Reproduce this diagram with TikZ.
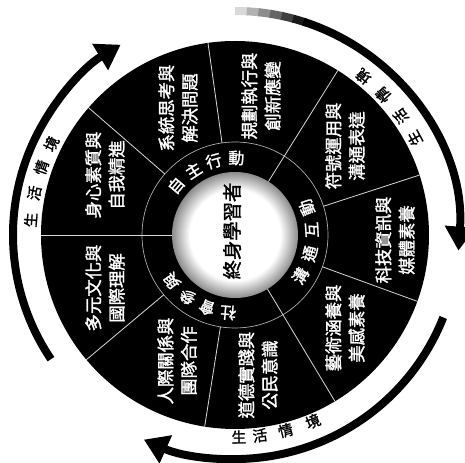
\documentclass[tikz,border=0pt]{standalone}
\usepackage{fontspec}
\newfontfamily\cjk[AutoFakeBold=1.6]{Noto Sans CJK TC}
\usetikzlibrary{arrows.meta}

\pgfdeclareradialshading{centrefade}{\pgfpoint{0bp}{0bp}}{color(0bp)=(white); color(18bp)=(white); color(25bp)=(black!45); color(50bp)=(black!45)}

\tikzset{
  divider/.style={draw=white!85!black, line width=0.6pt},
  ringedge/.style={draw=white!70!black, line width=0.5pt},
  coretext/.style={font=\cjk\bfseries\fontsize{14.5}{14.5}\selectfont, rotate=90, inner sep=0pt},
  itemtext/.style={text=white, font=\cjk\bfseries\fontsize{13}{17.5}\selectfont, align=center, rotate=90, inner sep=0pt},
  ringtext/.style={text=white, font=\cjk\bfseries\fontsize{12}{12}\selectfont, inner sep=0pt},
  arctext/.style={font=\cjk\bfseries\fontsize{11}{11}\selectfont, inner sep=0pt},
  lifearrow/.style={line width=6pt, -{Triangle[length=18pt,width=22pt]}},
}

\begin{document}
\begin{tikzpicture}[x=0.75pt,y=0.75pt]
%frame of the picture
\fill[white] (-235,-228) rectangle (230,235);
\useasboundingbox (-235,-228) rectangle (230,235);

%Shape: Disc
\fill[black] (0,0) circle (194);
%Inner ring edge
\draw[ringedge] (0,0) circle (93);
%Dividers between the three groups
\foreach \a in {58,-59,180} \draw[divider] (\a:63) -- (\a:194);
%Dividers between the nine items
\foreach \a in {139,98,18,-20,-99,-140} \draw[divider] (\a:93) -- (\a:194);
%Shape: Centre
\shade[shading=centrefade] (0,0) circle (63);

% Text Node
\node[coretext] (core) at (-3,4) {終身學習者};

%Ring: three groups
\foreach \ch/\ang [count=\i] in {自/140, 主/122.8, 行/106, 動/89}
  \node[ringtext, rotate=\ang-90] (self\i) at (\ang:77) {\ch};
\foreach \ch/\ang [count=\i] in {溝/-32, 通/-14, 互/3.8, 動/21}
  \node[ringtext, rotate=\ang+90] (comm\i) at (\ang:77) {\ch};
\foreach \ch/\ang [count=\i] in {社/265, 會/249, 參/232.5, 與/216}
  \node[ringtext, rotate=\ang-90] (soc\i) at (\ang:78) {\ch};

% Text Node
\node[itemtext] (body) at (-130,60) {身心素質與\\自我精進};
% Text Node
\node[itemtext] (system) at (-57,127) {系統思考與\\解決問題};
% Text Node
\node[itemtext] (plan) at (26,139) {規劃執行與\\創新應變};
% Text Node
\node[itemtext] (symbol) at (110,89) {符號運用與\\溝通表達};
% Text Node
\node[itemtext] (media) at (160,-5) {科技資訊與\\媒體素養};
% Text Node
\node[itemtext] (art) at (110,-93) {藝術涵養與\\美感素養};
% Text Node
\node[itemtext] (moral) at (23,-140) {道德實踐與\\公民意識};
% Text Node
\node[itemtext] (team) at (-58,-126) {人際關係與\\團隊合作};
% Text Node
\node[itemtext] (culture) at (-130,-53) {多元文化與\\國際理解};

%Arrow: left
\draw[lifearrow] (214:222) arc[start angle=214, end angle=121, radius=222];
\foreach \ch/\ang [count=\i] in {生/175.8, 活/168.2, 情/160.8, 境/153.6}
  \node[arctext, rotate=\ang-90] (lifeA\i) at (\ang:205) {\ch};

%Arrow: upper right, fading in at the top
\foreach \a/\c in {90/15, 87/30, 84/45, 81/60, 78/75, 75/90}
  \draw[line width=6pt, black!\c] (\a:224) arc[start angle=\a, end angle=\a-3.5, radius=224];
\draw[lifearrow] (72.2:224) arc[start angle=72.2, end angle=-4, radius=224];
\foreach \ch/\ang [count=\i] in {生/28.3, 活/35.6, 情/43.4, 境/51}
  \node[arctext, rotate=\ang+90] (lifeB\i) at (\ang:204) {\ch};

%Arrow: bottom
\draw[lifearrow] (-21.6:224) arc[start angle=-21.6, end angle=-114, radius=224];
\foreach \ch/\ang [count=\i] in {生/-88.9, 活/-82.9, 情/-75.5, 境/-67.3}
  \node[arctext, rotate=\ang+90] (lifeC\i) at (\ang:202) {\ch};

\end{tikzpicture}
\end{document}
